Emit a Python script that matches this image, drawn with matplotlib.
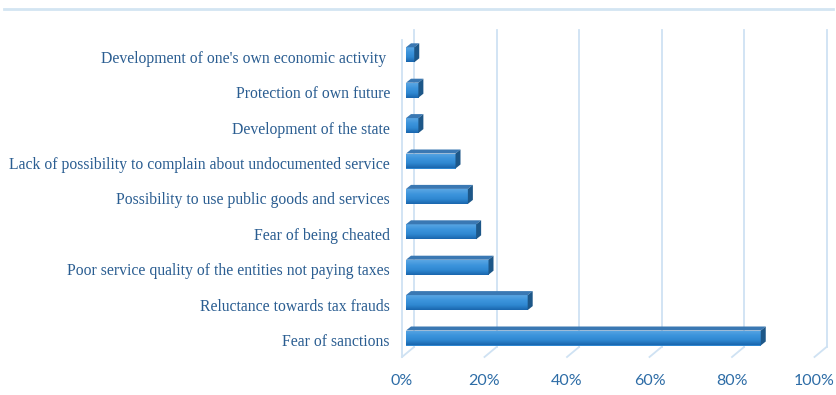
import numpy as np
import matplotlib
matplotlib.use("Agg")
import matplotlib.pyplot as plt
from matplotlib.patches import Polygon
from matplotlib.lines import Line2D

categories = [
    "Fear of sanctions",
    "Reluctance towards tax frauds",
    "Poor service quality of the entities not paying taxes",
    "Fear of being cheated",
    "Possibility to use public goods and services",
    "Lack of possibility to complain about undocumented service",
    "Development of the state",
    "Protection of own future",
    "Development of one's own economic activity ",
]
shares = [86, 29.5, 20, 17, 15, 12, 3, 3, 2]
xticks = [0, 20, 40, 60, 80, 100]
xtick_labels = ["0%", "20%", "40%", "60%", "80%", "100%"]

W, H = 836, 395
fig = plt.figure(figsize=(W / 100, H / 100), dpi=100)

# front plane of the 3-D box, in pixels
x0_px, x100_px = 402, 814.5
floor_px, row0_px, row_step = 357, 342, 35.4
top_px = 40
ax = fig.add_axes([x0_px / W, (H - floor_px) / H,
                   (x100_px - x0_px) / W, (floor_px - top_px) / H])
ymin = -(floor_px - row0_px) / row_step
ymax = (row0_px - top_px) / row_step
ax.set_xlim(0, 100)
ax.set_ylim(ymin, ymax)
ax.axis("off")

px_x = 100 / (x100_px - x0_px)   # data units per pixel, horizontal
px_y = 1 / row_step              # data units per pixel, vertical

grid_c = "#cfe2f3"
text_c = "#2a5d91"
tick_c = "#2d6ca6"

# back wall gridlines and floor diagonals
back_dx, back_dy = 12 * px_x, 10 * px_y
wall_top = (row0_px - 30) / row_step
for t in xticks:
    ax.plot([t + back_dx, t + back_dx], [ymin + back_dy, wall_top],
            color=grid_c, lw=1.3, clip_on=False, zorder=1)
    ax.plot([t, t + back_dx], [ymin, ymin + back_dy],
            color=grid_c, lw=1.3, clip_on=False, zorder=1)
# left wall front edge
ax.plot([0, 0], [ymin, wall_top - back_dy], color=grid_c, lw=1.3,
        clip_on=False, zorder=1)

# 3-D bars
ypos = np.arange(len(categories))
bar_x0 = 4 * px_x
bar_lift = 4 * px_y
bar_h = 15 * px_y
depth_x, depth_y = 5 * px_x, 4 * px_y

bars = ax.barh(ypos + bar_lift, shares, left=bar_x0, height=bar_h,
               color="#2e86d0", edgecolor="none", zorder=3)

grad = np.linspace(0, 1, 64).reshape(-1, 1)
cmap = matplotlib.colors.LinearSegmentedColormap.from_list(
    "face", ["#1a66ad", "#2f88d2", "#3d95dc", "#5aa6e3"])
for b, v, y in zip(bars, shares, ypos):
    yb = y + bar_lift - bar_h / 2
    yt = y + bar_lift + bar_h / 2
    im = ax.imshow(grad, cmap=cmap, aspect="auto", origin="lower",
                   extent=(bar_x0, bar_x0 + v, yb, yt), zorder=3.5,
                   interpolation="bilinear")
    im.set_clip_path(b)
    top = Polygon([(bar_x0, yt), (bar_x0 + v, yt),
                   (bar_x0 + v + depth_x, yt + depth_y),
                   (bar_x0 + depth_x, yt + depth_y)],
                  closed=True, facecolor="#3a78b3", edgecolor="none",
                  zorder=4)
    side = Polygon([(bar_x0 + v, yb), (bar_x0 + v + depth_x, yb + depth_y),
                    (bar_x0 + v + depth_x, yt + depth_y), (bar_x0 + v, yt)],
                   closed=True, facecolor="#1d5788", edgecolor="none",
                   zorder=4)
    ax.add_patch(top)
    ax.add_patch(side)

ax.set_xlim(0, 100)
ax.set_ylim(ymin, ymax)

# category labels
for y, name in zip(ypos, categories):
    ax.text(-12 * px_x, y, name, ha="right", va="center",
            fontsize=11.3, family="Liberation Serif", color=text_c,
            clip_on=False)

# percentage labels
label_y = ymin - 24 * px_y
for t, lab in zip(xticks, xtick_labels):
    ax.text(t, label_y, lab, ha="center", va="center", fontsize=11.5,
            family="Lato", color=tick_c, clip_on=False)

# chart border line on top
fig.add_artist(Line2D([4 / W, 833 / W], [1 - 9 / H, 1 - 9 / H],
                      color="#d3e5f2", lw=2))

fig.savefig("out.png", dpi=100, facecolor="white")
